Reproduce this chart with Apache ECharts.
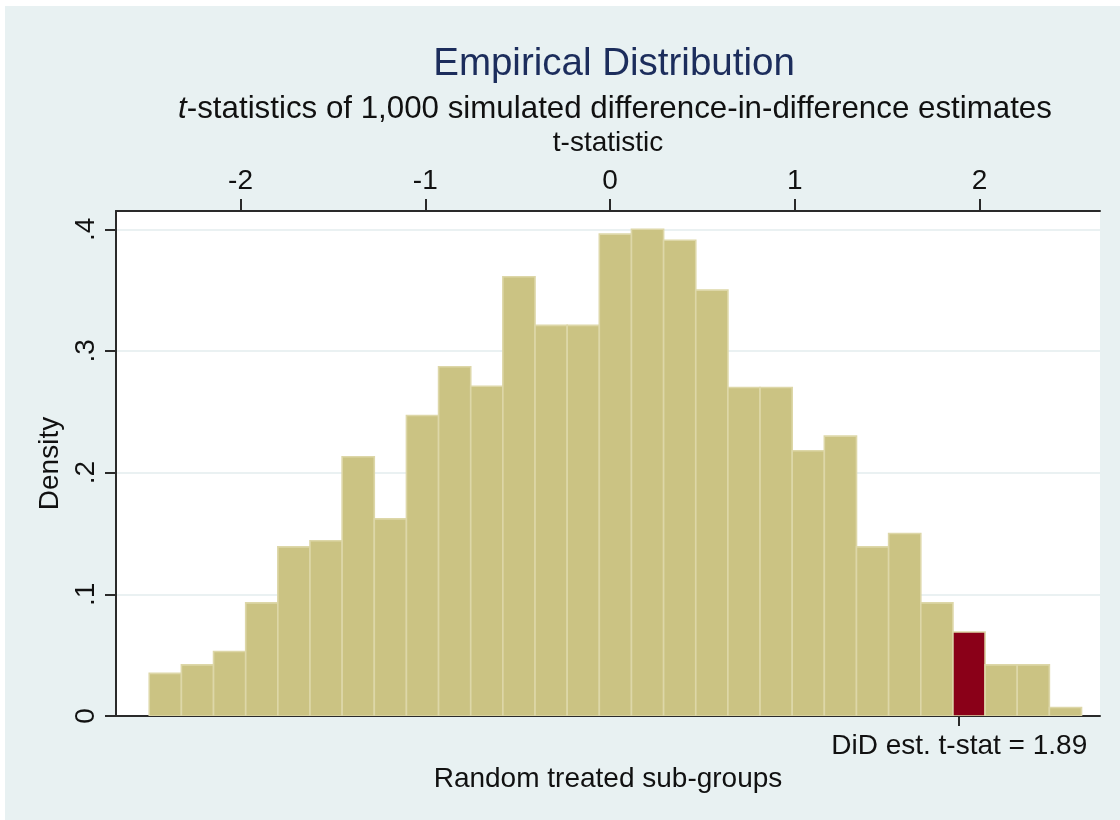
<!DOCTYPE html>
<html>
<head>
<meta charset="utf-8">
<script src="https://cdn.jsdelivr.net/npm/echarts@6/dist/echarts.min.js"></script>
<style>
  html, body { margin: 0; padding: 0; background: #ffffff; }
  #main { width: 1120px; height: 820px; }
</style>
</head>
<body>
<div id="main"></div>
<script>
// ---- data ----
const tBinEdges = [-2.494, -2.320, -2.146, -1.972, -1.798, -1.624, -1.450, -1.276, -1.102, -0.928,
                   -0.754, -0.580, -0.406, -0.232, -0.058, 0.116, 0.290, 0.464, 0.638, 0.812,
                   0.986, 1.160, 1.334, 1.508, 1.682, 1.856, 2.030, 2.204, 2.378, 2.552];
const density = [0.035, 0.042, 0.053, 0.093, 0.139, 0.144, 0.213, 0.162, 0.247, 0.287,
                 0.271, 0.361, 0.321, 0.321, 0.396, 0.400, 0.391, 0.350, 0.270, 0.270,
                 0.218, 0.230, 0.139, 0.150, 0.093, 0.069, 0.042, 0.042, 0.007];
const topTicks = [-2, -1, 0, 1, 2];
const yTicks = [0, 0.1, 0.2, 0.3, 0.4];
const didTStat = 1.89;
const didLabel = 'DiD est. t-stat = 1.89';
const titleText = 'Empirical Distribution';
const subtitleText = '{i|t}-statistics of 1,000 simulated difference-in-difference estimates';
const topAxisTitle = 't-statistic';
const bottomAxisTitle = 'Random treated sub-groups';
const yAxisTitle = 'Density';

// ---- chart ----
const FONT = "'Liberation Sans', Arial, sans-serif";
const AXIS_COLOR = '#2a2a2a';
const TXT = '#111111';
const X_MIN = -2.674, X_MAX = 2.652;

const chart = echarts.init(document.getElementById('main'), null, { renderer: 'canvas' });

const histData = density.map((d, i) => [tBinEdges[i], tBinEdges[i + 1], d]);

const option = {
  animation: false,
  backgroundColor: '#e8f1f2',
  textStyle: { fontFamily: FONT },
  graphic: [
    { type: 'rect', left: 0, top: 0, shape: { width: 1120, height: 6 }, style: { fill: '#ffffff' }, silent: true },
    { type: 'rect', left: 0, top: 0, shape: { width: 5, height: 820 }, style: { fill: '#ffffff' }, silent: true }
  ],
  title: [
    {
      text: titleText, left: 609, top: 40, textAlign: 'center',
      textStyle: { fontSize: 38.5, fontWeight: 'normal', color: '#1c2d5c', fontFamily: FONT }
    },
    {
      text: subtitleText, left: 610, top: 89, textAlign: 'center',
      textStyle: {
        fontSize: 31.3, fontWeight: 'normal', color: TXT, fontFamily: FONT,
        rich: { i: { fontSize: 31.3, fontStyle: 'italic', color: TXT, fontFamily: FONT } }
      }
    }
  ],
  grid: {
    left: 116, top: 211, right: 20, bottom: 104,
    show: true, backgroundColor: '#ffffff', borderWidth: 0,
    containLabel: false
  },
  xAxis: [
    {
      type: 'value', position: 'top', gridIndex: 0,
      min: X_MIN, max: X_MAX,
      name: topAxisTitle, nameLocation: 'middle', nameGap: 54,
      nameTextStyle: { fontSize: 28, color: TXT, fontFamily: FONT },
      axisLine: { show: true, onZero: false, lineStyle: { color: AXIS_COLOR, width: 2 } },
      axisTick: { show: true, inside: false, length: 12, customValues: topTicks, lineStyle: { color: AXIS_COLOR, width: 2 } },
      axisLabel: { show: true, customValues: topTicks, fontSize: 28, margin: 16, color: TXT, fontFamily: FONT,
                   formatter: v => String(v) },
      splitLine: { show: false }
    },
    {
      type: 'value', position: 'bottom', gridIndex: 0,
      min: X_MIN, max: X_MAX,
      name: bottomAxisTitle, nameLocation: 'middle', nameGap: 46,
      nameTextStyle: { fontSize: 28, color: TXT, fontFamily: FONT },
      axisLine: { show: true, onZero: false, lineStyle: { color: AXIS_COLOR, width: 2 } },
      axisTick: { show: true, inside: false, length: 10, customValues: [didTStat], lineStyle: { color: AXIS_COLOR, width: 2 } },
      axisLabel: { show: true, customValues: [didTStat], fontSize: 28, margin: 16, color: TXT, fontFamily: FONT,
                   formatter: () => didLabel },
      splitLine: { show: false }
    }
  ],
  yAxis: [
    {
      type: 'value', gridIndex: 0, position: 'left',
      min: 0, max: 0.415, interval: 0.1,
      name: yAxisTitle, nameLocation: 'middle', nameGap: 52,
      nameTextStyle: { fontSize: 28, color: TXT, fontFamily: FONT },
      axisLine: { show: true, onZero: false, lineStyle: { color: AXIS_COLOR, width: 2 } },
      axisTick: { show: true, inside: false, length: 11, customValues: yTicks, lineStyle: { color: AXIS_COLOR, width: 2 } },
      axisLabel: { show: true, customValues: yTicks, rotate: 90, fontSize: 28, margin: 16, color: TXT, fontFamily: FONT,
                   formatter: v => (v === 0 ? '0' : v.toFixed(1).replace(/^0/, '')) },
      splitLine: { show: true, lineStyle: { color: '#e3ecee', width: 1.5 } }
    }
  ],
  series: [
    {
      type: 'custom',
      xAxisIndex: 0, yAxisIndex: 0,
      data: histData,
      encode: { x: [0, 1], y: 2 },
      clip: true,
      renderItem: function (params, api) {
        const x0 = api.value(0), x1 = api.value(1), d = api.value(2);
        const pTop = api.coord([x0, d]);
        const pBot = api.coord([x1, 0]);
        const hl = didTStat >= x0 && didTStat < x1;
        return {
          type: 'rect',
          shape: { x: pTop[0], y: pTop[1], width: pBot[0] - pTop[0], height: pBot[1] - pTop[1] },
          style: { fill: hl ? '#8a0018' : '#cbc383', stroke: '#ddd7a8', lineWidth: 1.6 }
        };
      }
    }
  ]
};

chart.setOption(option);
</script>
</body>
</html>
